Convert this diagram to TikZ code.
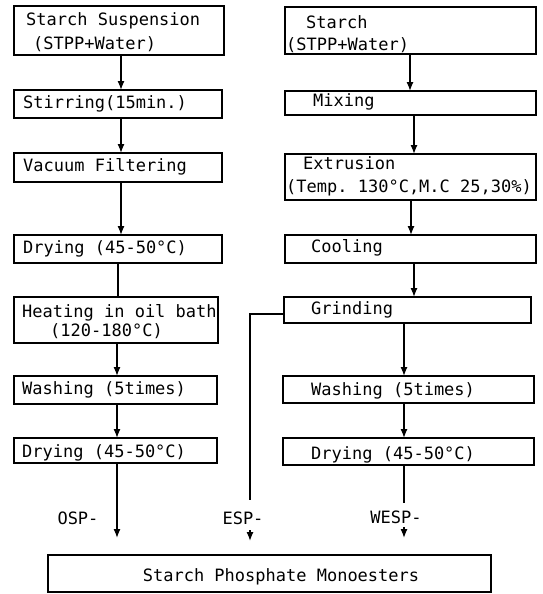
\documentclass[tikz,border=0pt]{standalone}
\usepackage{fontspec}
\setmonofont{DejaVu Sans Mono}
\usetikzlibrary{arrows.meta}
\newcommand{\bx}[5]{\node[bx, minimum width={#4-#2}, minimum height={#5-#3}] (#1) at ({(#2+#4)/2},{(#3+#5)/2}) {};}
\begin{document}
\begin{tikzpicture}[x=1pt,y=-1pt,
  bx/.style={draw, line width=1.3pt, inner sep=0pt, outer sep=0pt, rectangle},
  txt/.style={anchor=west, inner sep=0pt, font=\ttfamily\fontsize{17}{20}\selectfont},
  lbl/.style={anchor=center, inner sep=0pt, font=\ttfamily\fontsize{17}{20}\selectfont},
  arr/.style={line width=1.3pt, -{Latex[length=9pt,width=7pt]}},
  ln/.style={line width=1.3pt}]
\useasboundingbox (0,0) rectangle (542,594);
% left column
\bx{L1}{14}{6}{224}{55}
\bx{L2}{14}{90}{222}{118}
\bx{L3}{14}{153}{222}{182}
\bx{L4}{14}{235}{222}{263}
\bx{L5}{14}{297}{218}{343}
\bx{L6}{14}{376}{217}{404}
\bx{L7}{14}{438}{217}{463}
% right column
\bx{R1}{285}{7}{536}{54}
\bx{R2}{285}{91}{536}{115}
\bx{R3}{285}{154}{536}{200}
\bx{R4}{285}{235}{536}{263}
\bx{R5}{284}{297}{531}{323}
\bx{R6}{283}{376}{534}{403}
\bx{R7}{283}{438}{534}{465}
% bottom
\bx{B}{48}{555}{491}{592}
% texts
\node[txt] (t1a) at (26,21) {Starch Suspension};
\node[txt] (t1b) at (33,44) {(STPP+Water)};
\node[txt] (t2) at (23,104) {Stirring(15min.)};
\node[txt] (t3) at (23,167) {Vacuum Filtering};
\node[txt] (t4) at (23,249) {Drying (45-50°C)};
\node[txt] (t5a) at (22,313) {Heating in oil bath};
\node[txt] (t5b) at (50,331) {(120-180°C)};
\node[txt] (t6) at (22,390) {Washing (5times)};
\node[txt] (t7) at (22,453) {Drying (45-50°C)};
\node[txt] (s1a) at (306,22) {Starch};
\node[txt] (s1b) at (286,45) {(STPP+Water)};
\node[txt] (s2) at (313,102) {Mixing};
\node[txt] (s3a) at (303,163) {Extrusion};
\node[txt] (s3b) at (286,188) {(Temp. 130°C,M.C 25,30\%)};
\node[txt] (s4) at (311,248) {Cooling};
\node[txt] (s5) at (311,310) {Grinding};
\node[txt] (s6) at (311,391) {Washing (5times)};
\node[txt] (s7) at (311,455) {Drying (45-50°C)};
\node[lbl] (tb) at (281,577) {Starch Phosphate Monoesters};
\node[lbl] (osp) at (78,518) {OSP-};
\node[lbl] (esp) at (243,518) {ESP-};
\node[lbl] (wesp) at (396,517) {WESP-};
% column coordinates
\coordinate (cL1) at (121,0);
\coordinate (cL2) at (118,0);
\coordinate (cL3) at (117,0);
\coordinate (cR1) at (410,0);
\coordinate (cR2) at (414,0);
\coordinate (cR3) at (411,0);
\coordinate (cR4) at (404,0);
\coordinate (cE) at (250,0);
\coordinate (oEnd) at (117,538);
\coordinate (eTurn) at (250,314);
\coordinate (eEnd) at (250,500);
\coordinate (eA1) at (250,530);
\coordinate (eA2) at (250,541);
\coordinate (wEnd) at (404,503);
\coordinate (wA1) at (404,527);
\coordinate (wA2) at (404,538);
% left connectors
\draw[arr] (L1.south -| cL1) -- (L2.north -| cL1);
\draw[arr] (L2.south -| cL1) -- (L3.north -| cL1);
\draw[arr] (L3.south -| cL1) -- (L4.north -| cL1);
\draw[ln] (L4.south -| cL2) -- (L5.north -| cL2);
\draw[arr] (L5.south -| cL3) -- (L6.north -| cL3);
\draw[arr] (L6.south -| cL3) -- (L7.north -| cL3);
\draw[arr] (L7.south -| cL3) -- (oEnd);
% right connectors
\draw[arr] (R1.south -| cR1) -- (R2.north -| cR1);
\draw[arr] (R2.south -| cR2) -- (R3.north -| cR2);
\draw[arr] (R3.south -| cR3) -- (R4.north -| cR3);
\draw[arr] (R4.south -| cR2) -- (R5.north -| cR2);
\draw[arr] (R5.south -| cR4) -- (R6.north -| cR4);
\draw[arr] (R6.south -| cR4) -- (R7.north -| cR4);
\draw[ln] (R7.south -| cR4) -- (wEnd);
\draw[arr] (wA1) -- (wA2);
% ESP branch
\draw[ln] (R5.west |- eTurn) -- (eTurn) -- (eEnd);
\draw[arr] (eA1) -- (eA2);
\end{tikzpicture}
\end{document}
